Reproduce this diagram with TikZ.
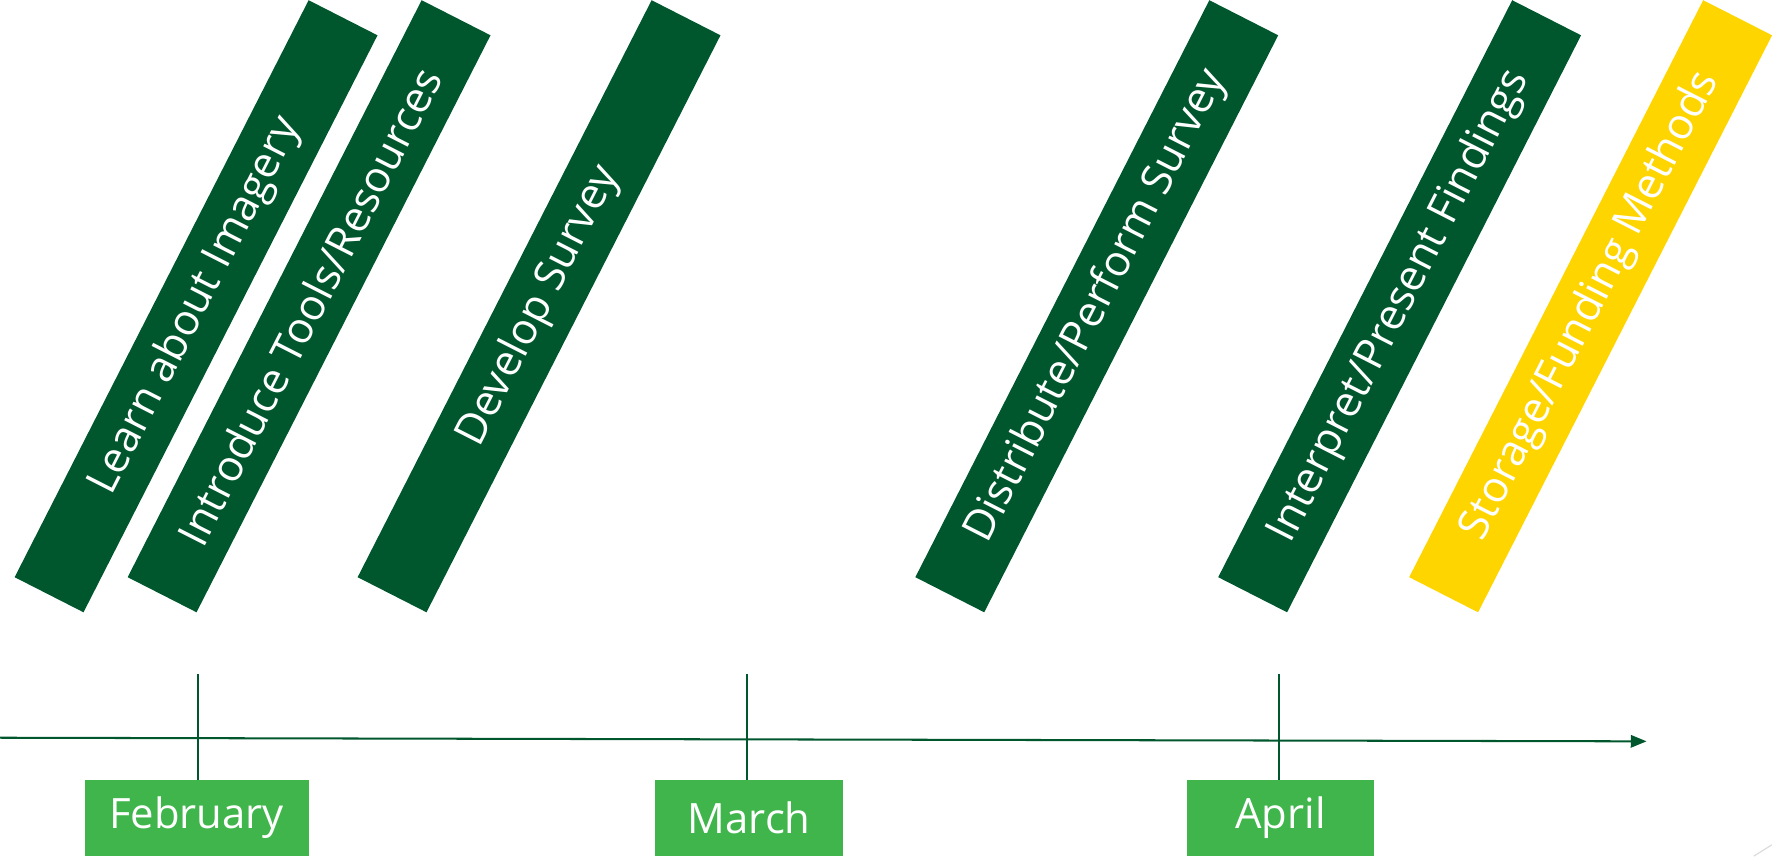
\documentclass[tikz,border=0pt]{standalone}
\usepackage{fontspec}
\setmainfont{Open Sans}
\usepackage{tikz}
\usetikzlibrary{arrows.meta}
\usetikzlibrary{positioning}
\definecolor{darkgreen}{HTML}{00572D}
\definecolor{lightgreen}{HTML}{3FB54C}
\definecolor{gold}{HTML}{FFD500}
\tikzset{
      task/.style={fill=darkgreen, text=white, rotate=63, inner sep=0pt,
            minimum width=573pt, minimum height=68.4pt,
            font=\fontsize{38}{40}\selectfont},
      extra/.style={task, fill=gold},
      month/.style={fill=lightgreen, text=white, inner sep=0pt,
            minimum height=67.5pt, font=\fontsize{37}{40}\selectfont},
      timeline/.style={draw=darkgreen, line width=1.8pt},
      tick/.style={draw=darkgreen, line width=1.8pt},
}
\begin{document}
\begin{tikzpicture}[x=1pt,y=1pt]
        \useasboundingbox (0,0) rectangle (1568,757.5);

        % Draw the tasks
        \node[task] (learn) at (173.5,486.5) {Learn about Imagery};
        \node[task] (tools) at (273.5,486.5) {Introduce Tools/Resources};
        \node[task] (develop) at (477,486.5) {Develop Survey};
        \node[task] (distribute) at (970.5,486.5) {Distribute/Perform Survey};
        \node[task] (interpret) at (1238.5,486.5) {Interpret/Present Findings};
        \node[extra] (storage) at (1407.5,486.5) {Storage/Funding Methods};

        % Draw the months
        \node[month, minimum width=198pt] (feb) at (174,33.75) {February};
        \node[month, minimum width=166pt] (mar) at (663,33.75) {March};
        \node[month, minimum width=166pt] (apr) at (1133,33.75) {April};

        % Draw the timeline
        \coordinate (start) at (0,104.7);
        \coordinate (end) at (1457,101.5);
        \draw[timeline, -{Triangle[length=14pt,width=11pt]}] (start) -- (end);

        \draw[tick] ([xshift=1pt]feb.north) -- ++(0,93);
        \draw[tick] ([xshift=-2pt]mar.north) -- ++(0,93);
        \draw[tick] ([xshift=-1pt]apr.north) -- ++(0,93);

        \draw[black!15, line width=1pt] (1552,0) -- (1568,10);

\end{tikzpicture}
\end{document}
